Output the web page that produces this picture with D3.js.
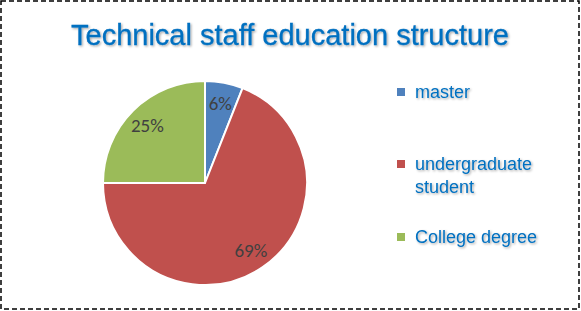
<!DOCTYPE html>
<html>
<head>
<meta charset="utf-8">
<script src="https://cdn.jsdelivr.net/npm/d3@7"></script>
<style>
  body { margin: 0; background: #fff; }
</style>
</head>
<body>
<div id="chart"></div>
<script>
// data
const categories = ['master', 'undergraduate student', 'College degree'];
const values = [6, 69, 25];
const colors = ['#4F81BD', '#C0504D', '#9BBB59'];
// legend label lines (wrapped like the original)
const legendLines = [['master'], ['undergraduate', 'student'], ['College degree']];

const width = 581, height = 311;

const svg = d3.select('#chart')
    .append('svg')
    .attr('width', width)
    .attr('height', height);

// drop shadow for title and legend text
const defs = svg.append('defs');
const f = defs.append('filter').attr('id', 'shadow')
    .attr('x', '-5%').attr('y', '-20%').attr('width', '110%').attr('height', '140%');
f.append('feDropShadow')
    .attr('dx', 1.2).attr('dy', 1.2).attr('stdDeviation', 0.8)
    .attr('flood-color', '#000').attr('flood-opacity', 0.35);

// dashed outer border
svg.append('rect')
    .attr('x', 1).attr('y', 1)
    .attr('width', width - 3).attr('height', height - 3)
    .attr('fill', 'none')
    .attr('stroke', '#000')
    .attr('stroke-width', 1.5)
    .attr('stroke-dasharray', '5,3');

// title
svg.append('text')
    .attr('x', 290)
    .attr('y', 45)
    .attr('text-anchor', 'middle')
    .attr('font-family', 'Liberation Sans, Arial, sans-serif')
    .attr('font-size', 29)
    .attr('fill', '#0070C0')
    .attr('stroke', '#0070C0')
    .attr('stroke-width', 0.3)
    .attr('filter', 'url(#shadow)')
    .text('Technical staff education structure');

// pie
const cx = 205, cy = 183, radius = 102;
const g = svg.append('g').attr('transform', `translate(${cx},${cy})`);

const pie = d3.pie().sort(null).value(d => d);
const arcs = pie(values);
const arc = d3.arc().innerRadius(0).outerRadius(radius);
const labelArc = d3.arc().innerRadius(radius * 0.8).outerRadius(radius * 0.8);

g.selectAll('path.slice')
    .data(arcs)
    .join('path')
    .attr('class', 'slice')
    .attr('d', arc)
    .attr('fill', (d, i) => colors[i])
    .attr('stroke', '#fff')
    .attr('stroke-width', 2)
    .attr('stroke-linejoin', 'round');

const total = d3.sum(values);
g.selectAll('text.lbl')
    .data(arcs)
    .join('text')
    .attr('class', 'lbl')
    .attr('transform', d => `translate(${labelArc.centroid(d)})`)
    .attr('text-anchor', 'middle')
    .attr('dy', '0.35em')
    .attr('font-family', 'Carlito, Liberation Sans, sans-serif')
    .attr('font-size', 19)
    .attr('fill', '#404040')
    .text(d => Math.round(d.data / total * 100) + '%');

// legend
const legendY = [92, 164, 237];
const legend = svg.append('g');
categories.forEach((c, i) => {
    legend.append('rect')
        .attr('x', 397).attr('y', legendY[i] - 4)
        .attr('width', 8).attr('height', 8)
        .attr('fill', colors[i]);
    const t = legend.append('text')
        .attr('x', 415)
        .attr('y', legendY[i] + 6)
        .attr('font-family', 'Liberation Sans, Arial, sans-serif')
        .attr('font-size', 18)
        .attr('fill', '#0070C0')
        .attr('filter', 'url(#shadow)');
    legendLines[i].forEach((line, j) => {
        t.append('tspan')
            .attr('x', 415)
            .attr('dy', j === 0 ? 0 : 23)
            .text(line);
    });
});
</script>
</body>
</html>
